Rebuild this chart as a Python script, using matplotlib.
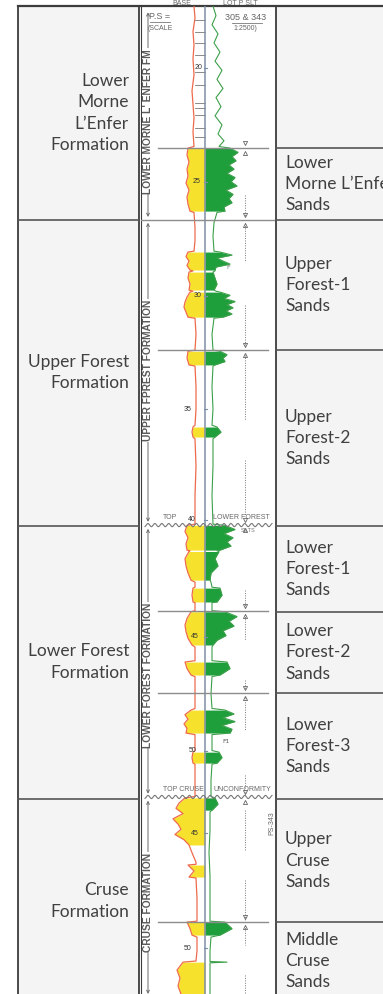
import numpy as np
import matplotlib.pyplot as plt
from matplotlib.patches import Rectangle

plt.rcParams['font.family'] = ['Lato', 'DejaVu Sans']

# depth scale of the log (hundreds of ft, display depth)
D_TOP = 17.275
D_BOT = 60.70

# table rows
formation_names = ["Lower\nMorne\nL\u2019Enfer\nFormation", "Upper Forest\nFormation",
                   "Lower Forest\nFormation", "Cruse\nFormation"]
formation_tops = [17.275, 26.68, 40.11, 52.11]
formation_base = 61.13

sand_names = ["Lower\nMorne L\u2019Enfer\nSands", "Upper\nForest-1\nSands", "Upper\nForest-2\nSands",
              "Lower\nForest-1\nSands", "Lower\nForest-2\nSands", "Lower\nForest-3\nSands",
              "Upper\nCruse\nSands", "Middle\nCruse\nSands"]
sand_tops = [23.52, 26.68, 32.40, 40.13, 43.91, 47.47, 52.13, 57.54]
sand_base = 60.97

# log: SP deflection (left of centre line) per bed
sp_beds = [(23.52, 26.29), (28.09, 28.88), (28.97, 29.76), (29.85, 30.95), (32.45, 33.05),
           (35.78, 36.22), (40.10, 41.19), (41.25, 42.51), (42.86, 43.47), (43.90, 45.36),
           (46.11, 46.68), (48.22, 49.23), (50.07, 50.55), (52.08, 54.15), (55.03, 55.56),
           (57.54, 58.11), (59.30, 60.70)]
sp_bed_values = [
    [-17, -18, -16, -18, -17, -19, -16, -18, -17, -15],
    [-17, -19, -16, -18, -15],
    [-16, -17, -15, -16],
    [-15, -18, -20, -21, -19, -17],
    [-17, -18, -16],
    [-12, -13, -12],
    [-18, -20, -17, -19, -18],
    [-16, -20, -19, -17, -14],
    [-12, -13, -12],
    [-14, -18, -20, -19, -17, -13],
    [-20, -18, -14],
    [-14, -20, -17, -21, -18, -19],
    [-12, -13, -12],
    [-20, -26, -29, -22, -32, -27, -24, -30, -21, -16],
    [-17, -11, -16],
    [-18, -15, -13],
    [-22, -28, -25, -27, -24],
]
sp_shale_depth = [17.28, 17.8, 18.4, 19.0, 19.6, 20.3, 21.0, 21.6, 22.2, 22.8, 23.45,
                  26.35, 27.0, 27.6, 28.05, 28.92, 29.81, 31.0, 31.7, 32.4,
                  33.1, 34.0, 35.0, 35.7, 36.3, 37.5, 38.8, 40.05, 41.22,
                  42.6, 42.82, 43.5, 43.85, 45.45, 46.05, 46.75, 47.5, 48.15,
                  49.3, 50.0, 50.6, 51.3, 52.02, 54.6, 54.9, 55.0, 55.6, 56.5, 57.5,
                  58.2, 58.8, 59.25]
sp_shale_value = [-11, -10, -12, -11, -12, -11, -13, -12, -11, -12, -11,
                  -11, -10, -10, -11, -12, -12, -10, -9, -10,
                  -10, -9, -9, -10, -10, -9, -10, -10, -15,
                  -10, -10, -10, -10, -10, -10, -10, -10, -10,
                  -10, -10, -10, -10, -10, -12, -9, -9, -9, -8, -8,
                  -8, -8, -9]

# log: resistivity (right of centre line) per bed
res_beds = [(23.52, 26.29), (28.09, 28.88), (28.97, 29.76), (29.85, 30.95), (32.45, 33.05),
            (35.78, 36.22), (40.10, 41.19), (41.25, 42.51), (42.86, 43.47), (43.90, 45.36),
            (46.11, 46.68), (48.22, 49.23), (50.07, 50.55), (52.08, 52.62), (57.54, 58.11)]
res_bed_values = [
    [25, 33, 27, 31, 24, 29, 22, 30, 26, 32, 21, 28, 24, 27, 19, 20],
    [15, 27, 12, 18, 25, 11, 10],
    [8, 10, 12, 9],
    [15, 25, 19, 30, 22, 28, 21, 27, 18],
    [15, 22, 18, 20, 10],
    [12, 16, 10],
    [20, 30, 19, 28, 22, 26, 15],
    [14, 10, 13, 6, 5],
    [15, 17, 12],
    [20, 32, 24, 29, 18, 21, 12, 8],
    [22, 25, 15],
    [20, 29, 18, 30, 17, 27, 25],
    [14, 17, 12],
    [10, 13, 7],
    [20, 27, 15],
]
res_shale_depth = [17.28, 17.7, 18.1, 18.5, 18.9, 19.3, 19.7, 20.1, 20.5, 20.9, 21.3, 21.7,
                   22.1, 22.5, 22.9, 23.2, 23.45, 26.35, 26.8, 27.4, 28.05, 28.92, 29.81,
                   31.0, 31.7, 32.4, 33.1, 34.0, 35.0, 35.7, 36.3, 37.5, 38.8, 40.05, 41.22,
                   42.6, 42.82, 43.5, 43.85, 45.45, 46.05, 46.75, 47.5, 48.15, 49.3, 50.0,
                   50.6, 51.3, 52.02, 52.7, 53.5, 54.5, 55.5, 56.5, 57.5,
                   58.2, 58.8, 59.27, 59.3, 59.33, 60.0, 60.7]
res_shale_value = [8, 11, 7, 13, 9, 15, 10, 17, 12, 18, 11, 16,
                   10, 17, 13, 19, 14, 12, 9, 8, 9, 10, 11,
                   9, 7, 8, 8, 7, 8, 7, 8, 8, 7, 8, 12,
                   6, 7, 7, 7, 7, 7, 7, 6, 7, 7, 7,
                   7, 6, 6, 5, 5, 4, 5, 5, 5,
                   6, 5, 5, 22, 5, 5, 5]

# log annotations
log_fm_labels = ["LOWER MORNE L' ENFER FM", "UPPER FPREST FORMATION",
                 "LOWER FOREST FORMATION", "CRUSE FORMATION"]
log_fm_spans = [(17.55, 26.55), (26.80, 39.95), (40.25, 51.90), (52.20, 60.70)]
log_fm_label_depth = [22.35, 33.30, 46.68, 56.66]
depth_marks = ["20", "25", "30", "35", "40", "45", "50", "45", "50"]
depth_mark_pos = [20, 25, 30, 35, 39.85, 45, 50, 53.63, 58.68]
depth_mark_off = [-6, -8, -7, -17, -13, -10, -12, -10, -17]
boundary_lines = [23.52, 26.68, 32.40, 43.87, 47.47, 57.54]
unconformities = [40.09, 52.04]
dotted_spans = [(25.58, 26.55), (26.80, 28.53), (30.42, 32.26), (32.62, 35.47), (37.23, 39.65),
                (42.95, 43.74), (44.0, 45.14), (46.9, 47.34), (47.65, 49.1), (51.08, 51.96),
                (52.62, 54.37), (55.69, 57.45), (57.67, 58.55), (59.87, 60.7)]
top_ticks = [17.89, 18.42, 18.90, 19.43, 20.18, 20.75, 21.54, 21.76, 22.07, 22.64, 23.03]


def build_curve(beds, bed_values, shale_depth, shale_value):
    d = list(shale_depth)
    v = list(shale_value)
    for (top, base), vals in zip(beds, bed_values):
        d += list(np.linspace(top, base, len(vals)))
        v += vals
    order = np.argsort(d)
    return np.array(d)[order], np.array(v)[order]


fig = plt.figure(figsize=(3.83, 9.94), dpi=100)
fig.patch.set_facecolor('white')

# table frame: x in pixels, y in display depth
frame = fig.add_axes([0, 0, 1, 1])
frame.set_xlim(0, 383)
frame.set_ylim(D_BOT, 20 - 68 / 22.75)
frame.axis('off')

LEFT_X0, LEFT_X1, RIGHT_X0 = 18, 138.5, 275.5
edge = '#3c3c3c'
frame.add_patch(Rectangle((LEFT_X0, D_TOP), LEFT_X1 - LEFT_X0, D_BOT - D_TOP + 1,
                          facecolor='#f4f4f4', edgecolor='none', zorder=0))
frame.add_patch(Rectangle((RIGHT_X0, D_TOP), 383 - RIGHT_X0, D_BOT - D_TOP + 1,
                          facecolor='#f4f4f4', edgecolor='none', zorder=0))
frame.plot([LEFT_X0, 383], [D_TOP, D_TOP], color=edge, lw=1.6, zorder=5)
for x in [LEFT_X0, LEFT_X1, 140.5, RIGHT_X0]:
    frame.plot([x, x], [D_TOP, D_BOT + 1], color=edge, lw=1.3 if x != 140.5 else 0.8, zorder=5)
for top in formation_tops[1:]:
    frame.plot([LEFT_X0, LEFT_X1], [top, top], color='#555555', lw=1.2, zorder=5)
for top in sand_tops:
    frame.plot([RIGHT_X0, 383], [top, top], color='#555555', lw=1.2, zorder=5)

fm_bounds = formation_tops + [formation_base]
for i, name in enumerate(formation_names):
    yc = (fm_bounds[i] + fm_bounds[i + 1]) / 2
    frame.text(129, yc, name, ha='right', va='center', multialignment='right',
               fontsize=12.5, color='#404040', linespacing=1.42)
sd_bounds = sand_tops + [sand_base]
for i, name in enumerate(sand_names):
    yc = (sd_bounds[i] + sd_bounds[i + 1]) / 2
    frame.text(285, yc, name, ha='left', va='center', fontsize=12.5,
               color='#404040', linespacing=1.4, clip_on=True)

# log track: x = deflection from centre line
log = fig.add_axes([141 / 383, 0, 134 / 383, 988 / 994])
log.set_xlim(-64, 70)
log.set_ylim(D_BOT, D_TOP)
log.axis('off')
log.patch.set_alpha(0)

sp_d, sp_v = build_curve(sp_beds, sp_bed_values, sp_shale_depth, sp_shale_value)
res_d, res_v = build_curve(res_beds, res_bed_values, res_shale_depth, res_shale_value)

for (top, base), vals in zip(sp_beds, sp_bed_values):
    dd = np.linspace(top, base, len(vals))
    log.fill_betweenx(dd, vals, 0, color='#f6e22c', lw=0, zorder=2)
for (top, base), vals in zip(res_beds, res_bed_values):
    dd = np.linspace(top, base, len(vals))
    log.fill_betweenx(dd, 0, vals, color='#1f9e3c', lw=0, zorder=2)

log.plot(sp_v, sp_d, color='#ee6a4c', lw=0.9, zorder=3)
log.plot(res_v, res_d, color='#3d9f4a', lw=0.8, zorder=3)
log.plot([0, 0], [D_TOP, D_BOT], color='#7d8fa6', lw=1.1, zorder=4)

for d in top_ticks:
    log.plot([-10, 0], [d, d], color='#777777', lw=0.6, zorder=3)
for d in boundary_lines:
    x0, x1 = (-64, 70) if d == 26.68 else (-47, 63)
    log.plot([x0, x1], [d, d], color='#8c8c8c', lw=1.0, zorder=5)

# unconformity symbols
wave_x = np.linspace(-60, 67, 400)
for d in unconformities:
    log.plot(wave_x, d + 0.07 * np.sin(wave_x / 1.1), color='#777777', lw=0.8, zorder=5)
small = dict(fontsize=5, color='#666666', fontfamily='Liberation Sans')
log.text(-42, 39.92, "TOP", ha='left', va='bottom', **small)
log.text(8, 39.92, "LOWER FOREST", ha='left', va='bottom', **small)
log.text(36, 40.35, "SILTS", ha='left', va='center', fontsize=4, color='#777777',
         fontfamily='Liberation Sans')
log.text(-42, 51.88, "TOP CRUSE", ha='left', va='bottom', **small)
log.text(8, 51.88, "UNCONFORMITY", ha='left', va='bottom', **small)
log.text(67, 53.2, "PS-343", ha='center', va='center', rotation=90, **small)

# header
log.text(-23, 17.15, "BASE", ha='center', va='center', **small)
log.text(35, 17.15, "LOT P SLT", ha='center', va='center', **small)
log.text(-45, 17.72, "P.S =", ha='center', va='center', fontsize=6.5, color='#666666',
         fontfamily='Liberation Sans')
log.text(41, 17.76, "305 & 343", ha='center', va='center', fontsize=6.5, color='#666666',
         fontfamily='Liberation Sans')
log.plot([-55, -35], [18.0, 18.0], color='#777777', lw=0.6)
log.plot([27, 57], [18.03, 18.03], color='#777777', lw=0.6)
log.text(-45, 18.25, "(SCALE", ha='center', va='center', **small)
log.text(40, 18.25, "1:2500)", ha='center', va='center', **small)

for lab, pos, off in zip(depth_marks, depth_mark_pos, depth_mark_off):
    log.text(off, pos, lab, ha='center', va='center', fontsize=5, color='#333333',
             fontfamily='Liberation Sans', zorder=6)
    log.plot([-1.5, 1.5], [pos, pos], color='#7d8fa6', lw=0.8, zorder=4)
log.text(23, 28.75, "F", fontsize=4.5, color='#777777', ha='center', va='center')
log.text(21, 49.6, "F1", fontsize=4.5, color='#555555', ha='center', va='center')

# formation spans on the left of the track
for lab, (top, base), yc in zip(log_fm_labels, log_fm_spans, log_fm_label_depth):
    log.annotate('', xy=(-57, top), xytext=(-57, base),
                 arrowprops=dict(arrowstyle='<->', color='#6a6a6a', lw=0.7,
                                 shrinkA=0, shrinkB=0, mutation_scale=5))
    log.text(-57, yc, lab, rotation=90, ha='center', va='center', fontsize=7.4,
             color='#5a5a5a', fontfamily='Liberation Sans', fontweight='bold',
             bbox=dict(facecolor='white', edgecolor='none', pad=0.5), zorder=6)

# sand interval markers on the right of the track
for top, base in dotted_spans:
    log.plot([40, 40], [top, base], color='#777777', lw=0.7, ls=(0, (1, 1.5)), zorder=3)
for d in boundary_lines + unconformities:
    log.plot([40], [d - 0.22], marker='v', ms=3, mfc='none', mec='#666666', mew=0.6, zorder=5)
    log.plot([40], [d + 0.22], marker='^', ms=3, mfc='none', mec='#666666', mew=0.6, zorder=5)

fig.savefig('out.png', dpi=100, facecolor='white')
